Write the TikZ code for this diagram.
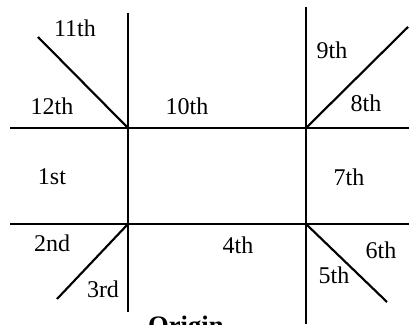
\documentclass[tikz,border=0pt]{standalone}
\usepackage{fontspec}
\setmainfont{Liberation Serif}
\usepackage{tikz}
\usetikzlibrary{positioning}

\begin{document}
\begin{tikzpicture}[x=0.75pt, y=-0.75pt, line width=1.6pt, line cap=butt,
    house/.style={font=\fontsize{18}{20}\selectfont, inner sep=0pt},
    caption/.style={font=\fontsize{20}{22}\selectfont\bfseries, inner sep=0pt}]
  \useasboundingbox (0,0) rectangle (409,324);
  \clip (0,0) rectangle (409,324);

  % corners of the middle box
  \coordinate (nw) at (128,128);
  \coordinate (ne) at (306,128);
  \coordinate (sw) at (128,224);
  \coordinate (se) at (306,224);

  % free ends of the lines
  \coordinate (topL) at (10,128);   \coordinate (topR) at (409,128);
  \coordinate (botL) at (10,224);   \coordinate (botR) at (409,224);
  \coordinate (leftT) at (128,13);  \coordinate (leftB) at (128,312);
  \coordinate (rightT) at (306,7);  \coordinate (rightB) at (306,324);
  \coordinate (diagNW) at (38,37);  \coordinate (diagNE) at (408,27);
  \coordinate (diagSW) at (57,299); \coordinate (diagSE) at (387,302);

  % ---- Grid ----
  \draw (topL) -- (nw) -- (ne) -- (topR);
  \draw (botL) -- (sw) -- (se) -- (botR);
  \draw (leftT) -- (nw) -- (sw) -- (leftB);
  \draw (rightT) -- (ne) -- (se) -- (rightB);

  % ---- Diagonals ----
  \draw (diagNW) -- (nw);
  \draw (ne) -- (diagNE);
  \draw (sw) -- (diagSW);
  \draw (se) -- (diagSE);

  % ---- Houses ----
  \node[house] (h1)  at (52,177)  {1st};
  \node[house] (h2)  at (52,243)  {2nd};
  \node[house] (h3)  at (103,289) {3rd};
  \node[house] (h4)  at (238,245) {4th};
  \node[house] (h5)  at (334,275) {5th};
  \node[house] (h6)  at (381,250) {6th};
  \node[house] (h7)  at (349,177) {7th};
  \node[house] (h8)  at (366,103) {8th};
  \node[house] (h9)  at (332,50)  {9th};
  \node[house] (h10) at (187,106) {10th};
  \node[house] (h11) at (75,28)   {11th};
  \node[house] (h12) at (52,106)  {12th};

  % cut-off caption
  \node[caption, anchor=base west] (cap) at (147,334) {Origin};
\end{tikzpicture}
\end{document}
